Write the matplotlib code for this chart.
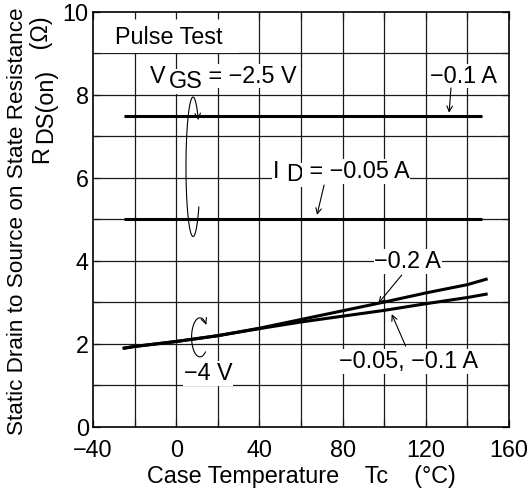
import numpy as np
import matplotlib.pyplot as plt
from matplotlib.patches import Rectangle, FancyArrowPatch
from matplotlib.path import Path

FS = 16.8
plt.rcParams['font.family'] = ['Liberation Sans', 'DejaVu Sans']
plt.rcParams['font.size'] = FS

# -------------------
# DATA
# -------------------
tc_flat = [-25, 147]
r_vgs25_id01 = [7.5, 7.5]
r_vgs25_id005 = [5.0, 5.0]

tc_curve = [-25, -20, 0, 20, 40, 60, 80, 100, 120, 140, 149]
r_vgs4_id02 = [1.90, 1.94, 2.06, 2.20, 2.38, 2.59, 2.80, 3.01, 3.23, 3.43, 3.56]
r_vgs4_id01 = [1.90, 1.94, 2.06, 2.20, 2.37, 2.53, 2.67, 2.81, 2.97, 3.12, 3.20]

x_ticks = [-40, 0, 40, 80, 120, 160]
y_ticks = [0, 2, 4, 6, 8, 10]


def minus(v):
    return str(v).replace('-', '\u2212')


# -------------------
# FIGURE
# -------------------
fig = plt.figure(figsize=(5.32, 4.95), dpi=100)
ax = fig.add_axes([0.1748, 0.1374, 0.782, 0.8384])
ax.set_xlim(-40, 160)
ax.set_ylim(0, 10)

for v in np.arange(-20, 160, 20):
    ax.axvline(v, color='#1a1a1a', lw=0.9, zorder=1)
for v in np.arange(1, 10, 1):
    ax.axhline(v, color='#1a1a1a', lw=0.9, zorder=1)

ax.set_xticks(np.arange(-40, 161, 20))
ax.set_xticklabels([minus(t) if t in x_ticks else '' for t in range(-40, 161, 20)])
ax.set_yticks(np.arange(0, 11, 1))
ax.set_yticklabels([minus(t) if t in y_ticks else '' for t in range(0, 11)])
ax.tick_params(axis='both', direction='in', length=5, width=0.9, color='#1a1a1a',
               top=True, right=True, labelsize=FS)
ax.tick_params(axis='x', pad=9)
ax.tick_params(axis='y', pad=3)
for s in ax.spines.values():
    s.set_linewidth(1.2)

# "Pulse Test" box hides the grid there
ax.add_patch(Rectangle((-40, 9), 70, 1, fc='white', ec='none', zorder=1.2))
ax.text(-29.4, 9.24, 'Pulse Test', zorder=4)

# -------------------
# CURVES
# -------------------
lw = 2.2
ax.plot(tc_flat, r_vgs25_id01, color='black', lw=lw, zorder=3, solid_capstyle='butt')
ax.plot(tc_flat, r_vgs25_id005, color='black', lw=lw, zorder=3, solid_capstyle='butt')
ax.plot(tc_curve, r_vgs4_id02, color='black', lw=lw, zorder=3)
ax.plot(tc_curve, r_vgs4_id01, color='black', lw=lw, zorder=3)


# -------------------
# LABELS
# -------------------
white = dict(fc='white', ec='none', pad=0.5)


def chain(x, y, parts, ha='left'):
    # parts: list of (text, shift_pt, gap_pt); pieces placed one after the other
    t = ax.text(x, y, parts[0][0], va='baseline', ha=ha, bbox=white, zorder=4)
    prev_shift = parts[0][1]
    for txt, shift, gap in parts[1:]:
        t = ax.annotate(txt, xy=(1, 0), xycoords=t, xytext=(gap, shift - prev_shift),
                        textcoords='offset points', va='bottom', ha='left',
                        bbox=white, zorder=4)
        prev_shift = shift
    return t


def arrow(tail, tip):
    ax.annotate('', xy=tip, xytext=tail,
                arrowprops=dict(arrowstyle='->', lw=0.8, color='black',
                                shrinkA=0, shrinkB=0, mutation_scale=10), zorder=4)


def loop(cx, cy, rx, ry, a0, a1):
    t = np.radians(np.linspace(a0, a1, 80))
    verts = np.column_stack([cx + rx * np.cos(t), cy + ry * np.sin(t)])
    p = FancyArrowPatch(path=Path(verts), arrowstyle='->', lw=0.8, color='black',
                        mutation_scale=10, zorder=4)
    ax.add_patch(p)


chain(-12.6, 8.30, [('V', 0, 0), ('GS', -4, 2), (' = \u22122.5 V', 0, 0)])
ax.text(137.9, 8.30, '\u22120.1 A', ha='center', va='baseline', bbox=white, zorder=4)
arrow((132.1, 8.17), (131.2, 7.57))

chain(46.5, 6.0, [('I ', 0, 0), ('D', -2.5, 0), (' = \u22120.05 A', 0, 0)])
arrow((71.1, 5.83), (67.7, 5.11))

loop(8.1, 6.27, 3.4, 1.68, -35, -318)

ax.text(111.4, 3.83, '\u22120.2 A', ha='center', va='baseline', bbox=white, zorder=4)
arrow((108.4, 3.66), (97.2, 2.98))
ax.text(111.7, 1.42, '\u22120.05, \u22120.1 A', ha='center', va='baseline', bbox=white, zorder=4)
arrow((110.3, 1.95), (103.6, 2.72))

loop(11.4, 2.16, 4.0, 0.47, -48, -320)
ax.text(15.5, 1.13, '\u22124 V', ha='center', va='baseline', bbox=white, zorder=4)

# axis titles
fig.text(0.5658, 0.037, 'Case Temperature    Tc    (\u00b0C)', ha='center', va='center')
fig.text(0.033, 0.553, 'Static Drain to Source on State Resistance', rotation=90,
         ha='center', va='center', fontsize=16.2)
r1 = fig.text(0.078, 0.6707, 'R', rotation=90, ha='center', va='bottom')
r2 = ax.annotate('DS(on)', xy=(0.5, 1), xycoords=r1, xytext=(3, 2), textcoords='offset points',
                 rotation=90, ha='center', va='bottom', annotation_clip=False)
ax.annotate('   (\u03a9)', xy=(0.5, 1), xycoords=r2, xytext=(-3, 0), textcoords='offset points',
            rotation=90, ha='center', va='bottom', annotation_clip=False)

fig.savefig('out.png', dpi=100)
